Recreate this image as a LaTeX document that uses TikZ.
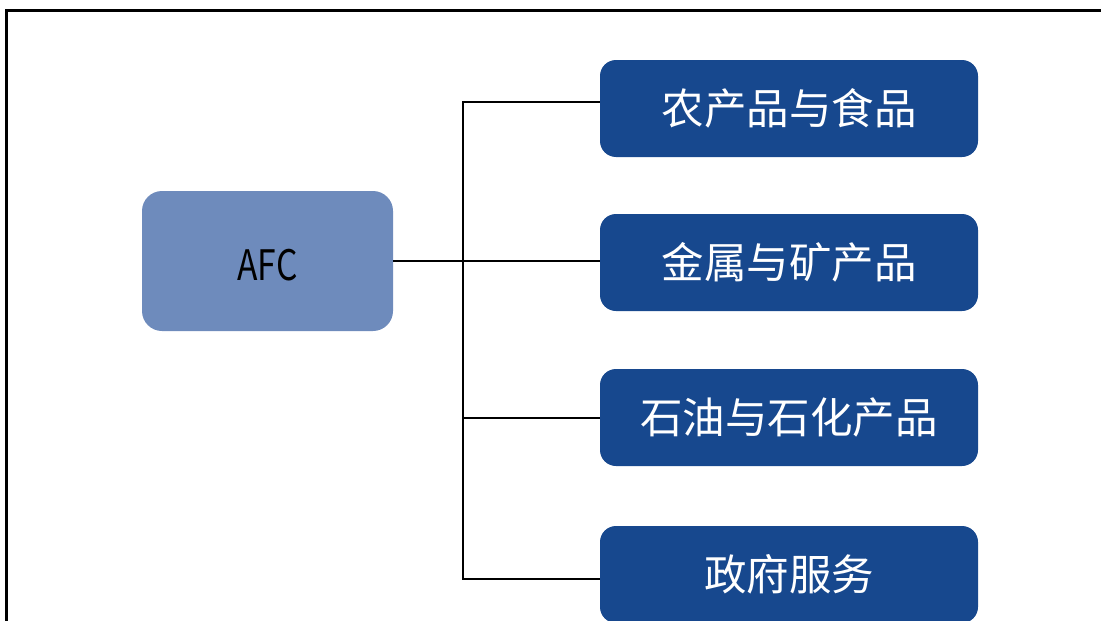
\documentclass[tikz,border=0pt]{standalone}
\usepackage{fontspec}
\newfontfamily\cjk{Noto Sans CJK SC}
\definecolor{dark}{HTML}{17488E}
\definecolor{light}{HTML}{6E8BBC}
\begin{document}
\begin{tikzpicture}[x=1pt,y=-1pt,
  cat/.style={fill=dark,draw=none,rounded corners=16pt,minimum width=378pt,minimum height=97pt,text=white,font=\cjk\fontsize{42.5}{46}\selectfont,inner sep=0pt},
  root/.style={fill=light,draw=none,rounded corners=20pt,minimum width=251pt,minimum height=140pt,text=black,font=\cjk\fontsize{42}{46}\selectfont,inner sep=0pt,text height=38pt,text depth=0pt},
  link/.style={draw=black,line width=1.3pt}]
\useasboundingbox (0,0) rectangle (1101,621);
\draw[line width=3pt] (1101,10.5) -- (6.5,10.5) -- (6.5,621);
\node[root] (afc) at (267.5,261) {\scalebox{0.8}[1]{AFC}};
\node[cat] (c1) at (789,108.5) {农产品与食品};
\node[cat] (c2) at (789,262.5) {金属与矿产品};
\node[cat] (c3) at (789,417.5) {石油与石化产品};
\node[cat] (c4) at (789,574.5) {政府服务};
\coordinate (j) at (463,261);
\draw[link] (afc.east |- j) -- (j);
\draw[link] (c1.west |- 0,102) -- (463,102) -- (463,579) -- (c4.west |- 0,579);
\draw[link] (j) -- (c2.west |- j);
\draw[link] (463,418) -- (c3.west |- 0,418);
\end{tikzpicture}
\end{document}
